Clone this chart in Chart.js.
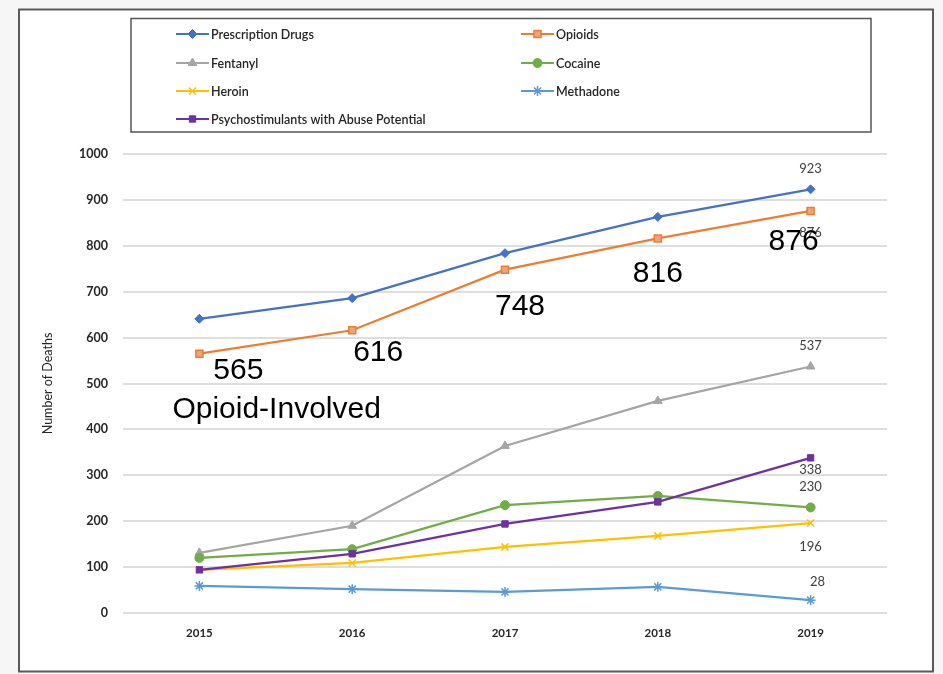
<!DOCTYPE html>
<html><head><meta charset="utf-8">
<script src="https://cdn.jsdelivr.net/npm/chart.js@4.4.0/dist/chart.umd.min.js"></script>
<style>
html,body{margin:0;padding:0;background:#f6f6f6;}
#wrap{position:absolute;left:0;top:0;width:943px;height:674px;}
</style></head><body><div id="wrap"><canvas id="c" width="943" height="674"></canvas></div>
<script>
const years = ['2015','2016','2017','2018','2019'];
const prescriptionDrugs = [641, 686, 784, 863, 923];
const opioids = [565, 616, 748, 816, 876];
const fentanyl = [131, 190, 364, 462, 537];
const cocaine = [120, 139, 235, 255, 230];
const heroin = [94, 109, 144, 168, 196];
const methadone = [59, 52, 46, 57, 28];
const psychostimulants = [94, 129, 194, 242, 338];
const yTicks = [0,100,200,300,400,500,600,700,800,900,1000];
const opioidNote = 'Opioid-Involved';

const seriesNames = ['Prescription Drugs','Opioids','Fentanyl','Cocaine','Heroin','Methadone','Psychostimulants with Abuse Potential'];
const seriesData = [prescriptionDrugs, opioids, fentanyl, cocaine, heroin, methadone, psychostimulants];
const styles = [
  {c:'#4472C4', bg:'#4472C4', ps:'rectRot', r:4.5, bw:1},
  {c:'#ED7D31', bg:'#E9A57F', ps:'rect', r:5, bw:1.5},
  {c:'#A5A5A5', bg:'#A5A5A5', ps:'triangle', r:5, bw:1},
  {c:'#70AD47', bg:'#70AD47', ps:'circle', r:4.5, bw:1},
  {c:'#FFC000', bg:'#FFC000', ps:'crossRot', r:5, bw:1.5},
  {c:'#5B9BD5', bg:'#5B9BD5', ps:'star', r:5, bw:1.5},
  {c:'#7030A0', bg:'#7030A0', ps:'rect', r:4.5, bw:1}
];

const datasets = seriesNames.map((n,i)=>({
  label:n, data:seriesData[i], borderColor:styles[i].c, backgroundColor:styles[i].bg,
  borderWidth:2.25, tension:0, pointStyle:styles[i].ps, pointRadius:styles[i].r,
  pointBorderWidth:styles[i].bw, pointBackgroundColor:styles[i].bg, pointBorderColor:styles[i].c,
  order: 7-i
}));

// small last-point labels: [datasetIndex, dx, dy]
const endLabels = [[0,0,-21],[1,0,22],[2,0,-21],[6,0,12],[3,0,-21],[4,0,24],[5,7,-18]];
// large opioid labels offsets per point
const bigOffsets = [[39,17],[26,22],[15,37],[0,35],[-17,31]];

const overlay = {
  id:'overlay',
  beforeDraw(chart){
    const ctx = chart.ctx;
    ctx.save();
    ctx.fillStyle = '#ffffff';
    ctx.fillRect(19,9,914,663);
    ctx.strokeStyle = '#5a5a5a'; ctx.lineWidth = 2;
    ctx.strokeRect(19,9.5,914,662);
    ctx.strokeStyle = '#555'; ctx.lineWidth = 1.5;
    ctx.strokeRect(131,18.5,740,113.5);
    ctx.restore();
  },
  afterDraw(chart){
    const ctx = chart.ctx;
    ctx.save();
    const colX = [176, 521], rowY = [34, 63, 91, 119];
    chart.data.datasets.forEach((ds,i)=>{
      const x0 = colX[i%2], y = rowY[Math.floor(i/2)];
      ctx.strokeStyle = ds.borderColor; ctx.lineWidth = 2;
      ctx.beginPath(); ctx.moveTo(x0,y); ctx.lineTo(x0+33,y); ctx.stroke();
      ctx.fillStyle = ds.pointBackgroundColor; ctx.strokeStyle = ds.pointBorderColor;
      ctx.lineWidth = ds.pointBorderWidth;
      Chart.helpers.drawPoint(ctx,{pointStyle:ds.pointStyle, radius:ds.pointRadius, rotation:0, borderWidth:ds.pointBorderWidth}, x0+16.5, y);
      ctx.fillStyle = '#262626'; ctx.font = '600 12.5px Lato'; ctx.textBaseline='middle'; ctx.textAlign='left';
      ctx.fillText(ds.label, x0+35, y+0.5);
    });
    ctx.font = '13px Lato'; ctx.fillStyle = '#404040'; ctx.textAlign='center'; ctx.textBaseline='middle';
    endLabels.forEach(([di,dx,dy])=>{
      const meta = chart.getDatasetMeta(di); const pt = meta.data[meta.data.length-1];
      const v = chart.data.datasets[di].data[meta.data.length-1];
      ctx.fillText(String(v), pt.x+dx, pt.y+dy);
    });
    ctx.font = '30px "Liberation Sans", Arial'; ctx.fillStyle = '#000';
    const om = chart.getDatasetMeta(1);
    om.data.forEach((pt,k)=>{
      ctx.fillText(String(opioids[k]), pt.x+bigOffsets[k][0], pt.y+bigOffsets[k][1]);
    });
    ctx.textAlign='left';
    ctx.fillText(opioidNote, om.data[0].x-27, om.data[0].y+56);
    ctx.restore();
  }
};

new Chart(document.getElementById('c'),{
  type:'line',
  data:{labels:years, datasets},
  options:{
    responsive:false, animation:false,
    layout:{padding:{left:30, right:56, top:154, bottom:21}},
    plugins:{legend:{display:false}, tooltip:{enabled:false}},
    scales:{
      x:{
        offset:true,
        grid:{display:false, drawTicks:false}, border:{display:false},
        ticks:{font:{family:'Lato', size:11.5, weight:'bold'}, color:'#262626', padding:13, maxRotation:0},
        afterFit(s){ s.height = 40; }
      },
      y:{
        min:0, max:1000,
        afterBuildTicks(s){ s.ticks = yTicks.map(v=>({value:v})); },
        grid:{color:'#dedede', lineWidth:2, drawTicks:false}, border:{display:false},
        ticks:{font:{family:'Lato', size:12.5, weight:'bold'}, color:'#262626', padding:15, callback:v=>String(v)},
        title:{display:true, text:'Number of Deaths', font:{family:'Lato', size:12.5}, color:'#262626', padding:{top:10,bottom:0}},
        afterFit(s){ s.width = 93; }
      }
    }
  },
  plugins:[overlay]
});
</script></body></html>
